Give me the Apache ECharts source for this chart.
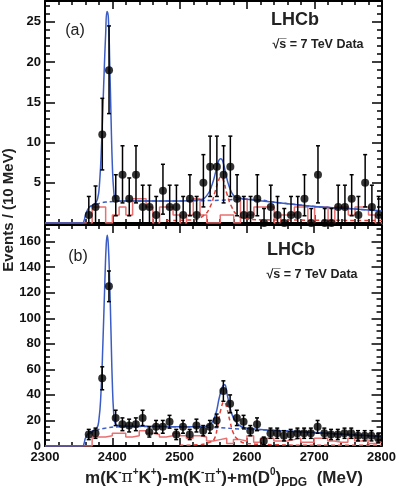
<!DOCTYPE html>
<html><head><meta charset="utf-8">
<script src="https://cdn.jsdelivr.net/npm/echarts@6/dist/echarts.min.js"></script>
<style>html,body{margin:0;padding:0;background:#fff}#c{width:399px;height:499px}</style>
</head><body><div id="c"></div>
<script>
// ---------- DATA ----------
const binCenters = [2365,2375,2385,2395,2405,2415,2425,2435,2445,2455,2465,2475,2485,2495,2505,2515,2525,2535,2545,2555,2565,2575,2585,2595,2605,2615,2625,2635,2645,2655,2665,2675,2685,2695,2705,2715,2725,2735,2745,2755,2765,2775,2785,2795];
// panel (a)
const aCounts = [1,2,11,19,3,6,3,6,2,2,1,4,2,2,1,3,1,5,7,7,6,7,3,1,1,3,0,2,1,0,1,1,3,0,6,0,0,2,2,3,1,5,2,1];
const aErrHi  = [3.3,4.6,15.5,24.5,6.0,9.6,5.6,9.6,4.7,4.7,3.3,7.3,4.7,4.7,3.3,6.0,3.3,8.5,10.8,10.8,9.6,10.8,6.0,3.3,3.3,6.0,1.8,4.7,3.3,1.8,3.3,3.3,6.0,1.8,9.6,1.8,1.8,4.7,4.7,6.0,3.3,8.5,4.7,3.3];
const aErrLo  = [0,0,6.6,13.6,0.9,2.5,0.9,2.5,0,0,0,1.1,0,0,0,0.9,0,2.0,3.3,3.3,2.5,3.3,0.9,0,0,0.9,0,0,0,0,0,0,0.9,0,2.5,0,0,0,0,0.9,0,2.0,0,0];
const aHistEdges = [2300,2370,2380,2390,2400,2410,2420,2430,2440,2450,2460,2470,2480,2490,2500,2510,2520,2530,2540,2550,2560,2570,2580,2590,2600,2610,2620,2630,2640,2650,2660,2670,2680,2690,2700,2710,2720,2730,2740,2750,2760,2770,2780,2790,2800];
const aHistVals  = [0,2,2,0,1,2,1,3,3,2,0,2,2,1,0,1,3,1,0,0,1,1,0,3,1,2,2,2,0,1,1,2,2,0,2,2,0,2,2,1,2,2,1,0,0];
const aFitX   = [2300,2356,2358,2360,2363,2366,2370,2374,2378,2381,2384,2387,2390,2392,2394,2396,2398,2400,2402,2404,2408,2420,2450,2500,2530,2540,2548,2554,2558,2561,2564,2568,2573,2580,2588,2600,2650,2700,2750,2800];
const aFitY   = [0,0,0.3,1.0,1.6,2.0,2.2,2.4,3.0,5,10,17,23.5,26.3,25.5,20,13,7,4,3.0,2.75,2.75,2.75,2.75,2.9,3.4,4.8,6.6,7.8,8.0,7.6,6.2,4.6,3.4,3.1,2.95,2.5,2.05,1.8,1.5];
const aBkgX   = [2366,2375,2390,2410,2450,2500,2550,2600,2650,2700,2750,2800];
const aBkgY   = [2.0,2.3,2.6,2.7,2.75,2.75,2.8,2.95,2.5,2.05,1.8,1.5];
const aPk2X   = [2480,2520,2535,2545,2552,2558,2561,2565,2570,2577,2585,2595,2620,2700,2800];
const aPk2Y   = [0.3,0.4,0.9,2.0,3.8,5.4,5.75,5.2,3.6,2.0,1.0,0.6,0.4,0.35,0.3];
// panel (b)
const bCounts = [9,10,53,125,22,17,16,17,22,11,15,15,19,9,15,9,16,12,15,20,43,33,22,19,12,17,4,10,10,8,9,10,10,10,15,10,9,9,10,10,8,8,8,6];
const bErrHi  = [13,14,62,137,28,22,21,22,28,15,20,20,24,13,20,13,21,16,20,25,51,40,28,24,16,22,7,14,14,12,13,14,14,14,20,14,13,13,14,14,12,12,12,9.5];
const bErrLo  = [5,6,44,113,16,12,11,12,16,7,10,10,14,5,10,5,11,8,10,15,35,26,16,14,8,12,1,6,6,4,5,6,6,6,10,6,5,5,6,6,4,4,4,2.5];
const bHistEdges = aHistEdges;
const bHistVals  = [0,7,7,8,10,10,7,8,12,10,9,7,8,10,8,6,8,7,4,5,6,2,5,4,8,3,6,6,4,4,5,6,3,3,6,6,4,3,3,6,4,5,2,3,3];
const bFitX   = [2300,2356,2358,2360,2363,2367,2372,2377,2380,2383,2386,2389,2391,2392.5,2394,2396,2398,2400,2402,2404,2408,2420,2450,2500,2530,2545,2553,2559,2564,2567,2570,2575,2580,2587,2595,2620,2650,2700,2750,2800];
const bFitY   = [0,0,2,6,9,11,12,14,20,40,80,130,158,165,158,130,90,50,26,18,16,15.5,15.5,15,15,17,24,38,47,48,42,30,22,17,14.5,13,12,10.5,9,7.5];
const bBkgX   = [2366,2375,2390,2410,2450,2500,2550,2600,2650,2700,2750,2800];
const bBkgY   = [9.5,12,14,15,15.3,15,14.5,13,12,10.5,9,7.5];
const bPk2X   = [2500,2530,2545,2551,2556,2561,2566,2570,2575,2580,2587,2600,2640,2700,2800];
const bPk2Y   = [0.5,1,3,5,14,28,34.5,30,19,10,5,2,1,0.6,0.5];

// ---------- STYLE ----------
const BLUE = '#3a5cc4', RED = '#e04038', HRED = '#e87070';
const zip = (xs, ys) => xs.map((x, i) => [x, ys[i]]);
const chart = echarts.init(document.getElementById('c'), null, {renderer: 'canvas'});
const FONT = 'Liberation Sans, Arial, Helvetica, sans-serif';

function xAxisDef(grid, pos, labels) {
  return {gridIndex: grid, type: 'value', position: pos, min: 2300, max: 2800, interval: 100,
    axisLine: {show: true, onZero: false, lineStyle: {color: '#000', width: 2}},
    axisTick: {show: true, inside: true, length: 8, lineStyle: {color: '#000', width: 1.5}},
    minorTick: {show: true, splitNumber: 5, length: 4, lineStyle: {color: '#000', width: 1.5}},
    splitLine: {show: false}, minorSplitLine: {show: false},
    axisLabel: {show: labels, color: '#111', fontFamily: FONT, fontWeight: 'bold', fontSize: 13, margin: 5,
      formatter: v => String(v)}};
}
function yAxisDef(grid, pos, max, interval, minorSplit, labels, hideZero) {
  return {gridIndex: grid, type: 'value', position: pos, min: 0, max: max, interval: interval,
    axisLine: {show: true, onZero: false, lineStyle: {color: '#000', width: 2}},
    axisTick: {show: true, inside: true, length: 10, lineStyle: {color: '#000', width: 1.5}},
    minorTick: {show: true, splitNumber: minorSplit, length: 5, lineStyle: {color: '#000', width: 1.5}},
    splitLine: {show: false}, minorSplitLine: {show: false},
    axisLabel: {show: labels, color: '#111', fontFamily: FONT, fontWeight: 'bold', fontSize: 13, margin: 4,
      formatter: v => (v % interval !== 0 || (hideZero && v === 0)) ? '' : String(v)}};
}

function errSeries(xi, yi, xs, lo, hi) {
  return {type: 'custom', xAxisIndex: xi, yAxisIndex: yi, z: 5,
    data: xs.map((x, i) => [x, lo[i], hi[i]]),
    encode: {x: 0, y: [1, 2]},
    renderItem: (params, api) => {
      const p1 = api.coord([api.value(0), api.value(1)]);
      const p2 = api.coord([api.value(0), api.value(2)]);
      const st = {stroke: '#000', lineWidth: 1.5};
      const c = 2;
      return {type: 'group', children: [
        {type: 'line', shape: {x1: p1[0], y1: p1[1], x2: p2[0], y2: p2[1]}, style: st},
        {type: 'line', shape: {x1: p2[0] - c, y1: p2[1], x2: p2[0] + c, y2: p2[1]}, style: st},
        {type: 'line', shape: {x1: p1[0] - c, y1: p1[1], x2: p1[0] + c, y2: p1[1]}, style: st}
      ]};
    }};
}
function lineS(xi, yi, data, color, dashed, smooth, width, z) {
  return {type: 'line', xAxisIndex: xi, yAxisIndex: yi, data: data, showSymbol: false, symbol: 'none',
    smooth: smooth, z: z, clip: true,
    lineStyle: {color: color, width: width, type: dashed ? [4, 3] : 'solid'}};
}
function histS(xi, yi, edges, vals) {
  return {type: 'line', xAxisIndex: xi, yAxisIndex: yi, data: zip(edges, vals), step: 'end',
    showSymbol: false, symbol: 'none', z: 2, lineStyle: {color: HRED, width: 1.5}};
}
function ptsS(xi, yi, xs, ys) {
  return {type: 'scatter', xAxisIndex: xi, yAxisIndex: yi, data: zip(xs, ys), symbol: 'circle',
    symbolSize: 8, itemStyle: {color: '#000'}, z: 6};
}

const supTitle = '{b|m(K}{sup|-}{g|π}{sup|+}{b|K}{sup|+}{b|)-m(K}{sup|-}{g|π}{sup|+}{b|)+m(D}{sup|0}{b|)}{sub|PDG}{b|  (MeV)}';

const option = {
  animation: false,
  backgroundColor: '#fff',
  grid: [
    {left: 45, top: 1, width: 337, height: 222},
    {left: 45, top: 225, width: 337, height: 221}
  ],
  xAxis: [xAxisDef(0, 'bottom', false), xAxisDef(0, 'top', false), xAxisDef(1, 'bottom', true), xAxisDef(1, 'top', false)],
  yAxis: [yAxisDef(0, 'left', 27.6, 5, 5, true, true), yAxisDef(0, 'right', 27.6, 5, 5, false, true),
          yAxisDef(1, 'left', 173, 20, 4, true, false), yAxisDef(1, 'right', 173, 20, 4, false, false)],
  series: [
    histS(0, 0, aHistEdges, aHistVals),
    lineS(0, 0, zip(aPk2X, aPk2Y), RED, true, true, 1.5, 3),
    lineS(0, 0, zip(aBkgX, aBkgY), BLUE, true, true, 1.5, 3),
    lineS(0, 0, zip(aFitX, aFitY), BLUE, false, true, 1.5, 4),
    errSeries(0, 0, binCenters, aErrLo, aErrHi),
    ptsS(0, 0, binCenters, aCounts),
    histS(2, 2, bHistEdges, bHistVals),
    lineS(2, 2, zip(bPk2X, bPk2Y), RED, true, true, 1.5, 3),
    lineS(2, 2, zip(bBkgX, bBkgY), BLUE, true, true, 1.5, 3),
    lineS(2, 2, zip(bFitX, bFitY), BLUE, false, true, 1.5, 4),
    errSeries(2, 2, binCenters, bErrLo, bErrHi),
    ptsS(2, 2, binCenters, bCounts)
  ],
  graphic: [
    {type: 'text', x: 75, y: 31, style: {text: '(a)', font: '16px ' + FONT, fill: '#222', align: 'center', verticalAlign: 'middle'}},
    {type: 'text', x: 295, y: 20, style: {text: 'LHCb', font: 'bold 18px ' + FONT, fill: '#222', align: 'center', verticalAlign: 'middle'}},
    {type: 'text', x: 318, y: 45, style: {text: '√s\u0305 = 7 TeV Data', font: 'bold 12.5px ' + FONT, fill: '#222', align: 'center', verticalAlign: 'middle'}},
    {type: 'text', x: 78, y: 257, style: {text: '(b)', font: '16px ' + FONT, fill: '#222', align: 'center', verticalAlign: 'middle'}},
    {type: 'text', x: 291, y: 250, style: {text: 'LHCb', font: 'bold 18px ' + FONT, fill: '#222', align: 'center', verticalAlign: 'middle'}},
    {type: 'text', x: 312, y: 275, style: {text: '√s\u0305 = 7 TeV Data', font: 'bold 12.5px ' + FONT, fill: '#222', align: 'center', verticalAlign: 'middle'}},
    {type: 'text', x: 9, y: 210, rotation: Math.PI / 2, style: {text: 'Events / (10 MeV)', font: 'bold 15px ' + FONT, fill: '#222', align: 'center', verticalAlign: 'middle'}},
    {type: 'text', x: 224, y: 478, style: {text: supTitle, align: 'center', verticalAlign: 'middle', fill: '#222',
      rich: {
        b: {fontSize: 17, fontWeight: 'bold', fontFamily: FONT, fill: '#222', lineHeight: 22, verticalAlign: 'middle'},
        g: {fontSize: 17, fontFamily: 'DejaVu Serif, serif', fill: '#222', lineHeight: 22, verticalAlign: 'middle'},
        sup: {fontSize: 10, fontWeight: 'bold', fontFamily: FONT, fill: '#222', verticalAlign: 'top', lineHeight: 22, padding: [0, 0, 0, 0]},
        sub: {fontSize: 12, fontWeight: 'bold', fontFamily: FONT, fill: '#222', verticalAlign: 'bottom', lineHeight: 22, padding: [10, 0, 0, 0]}
      }}}
  ]
};
chart.setOption(option);
</script></body></html>
